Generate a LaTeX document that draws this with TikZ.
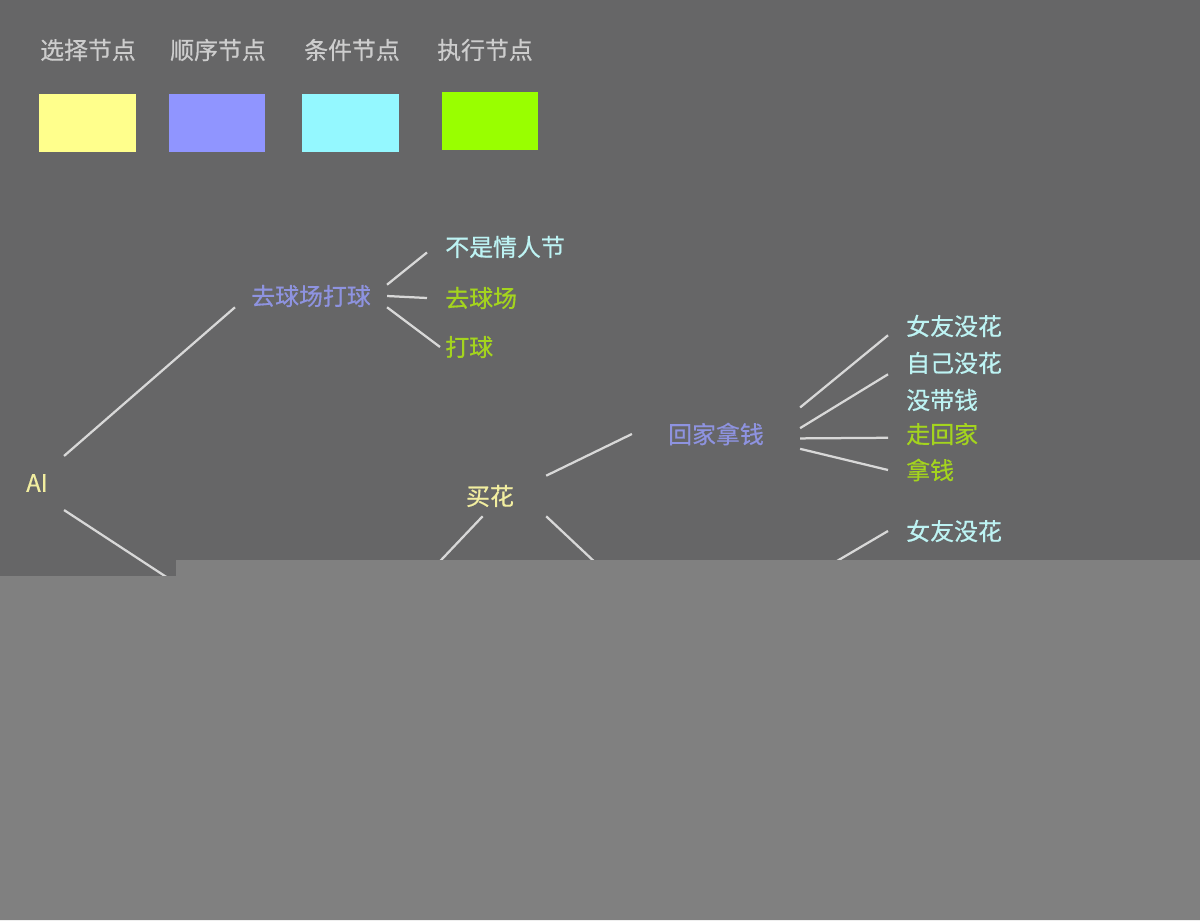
\documentclass[tikz,border=0pt]{standalone}
\usepackage{fontspec}
\newfontfamily\cjk[FakeBold=0.6]{Noto Sans CJK SC}
\usepackage{tikz}

\definecolor{bggray}{HTML}{666667}
\definecolor{maskgray}{HTML}{808080}
\definecolor{legendgray}{HTML}{CDCDCD}
\definecolor{linegray}{HTML}{D8D8D8}
\definecolor{selfill}{HTML}{FFFF8C}
\definecolor{seqfill}{HTML}{9095FF}
\definecolor{condfill}{HTML}{94F8FF}
\definecolor{actfill}{HTML}{99FF00}
\definecolor{seltext}{HTML}{F2EEA0}
\definecolor{seqtext}{HTML}{8E93E0}
\definecolor{condtext}{HTML}{BDF3F3}
\definecolor{acttext}{HTML}{A4D41E}

\begin{document}
\begin{tikzpicture}[x=0.025cm, y=-0.025cm,
        txt/.style={font={\cjk\fontsize{17pt}{20pt}\selectfont}, inner ysep=0pt},
        legend/.style={txt, text=legendgray},
        swatch/.style={minimum width=2.4cm, minimum height=1.45cm, inner sep=0pt},
        sel/.style={txt, text=seltext},
        seq/.style={txt, text=seqtext},
        cond/.style={txt, text=condtext},
        act/.style={txt, text=acttext},
        leaf/.style={anchor=west, inner xsep=0.45cm},
        link/.style={draw=linegray, line width=1.6pt}]

        \useasboundingbox (0,0) rectangle (1200,920);
        \fill[bggray] (0,0) rectangle (1200,920);

        \node[legend] (lsel) at (88,50) {选择节点};
        \node[legend] (lseq) at (218,50) {顺序节点};
        \node[legend] (lcond) at (352,50) {条件节点};
        \node[legend] (lact) at (485,50) {执行节点};

        \node[swatch, fill=selfill] (bsel) at (87.5,123) {};
        \node[swatch, fill=seqfill] (bseq) at (217,123) {};
        \node[swatch, fill=condfill] (bcond) at (350.5,123) {};
        \node[swatch, fill=actfill] (bact) at (490,121) {};


        \node[sel, inner xsep=0.4cm, inner ysep=0.45cm] (ai) at (37,483) {AI};

        \node[seq, inner xsep=0.4cm] (qqdq) at (311,296) {去球场打球};
        \node[cond, leaf] (bsqr) at (427,247) {不是情人节};
        \node[act, leaf] (qqc) at (427,298) {去球场};
        \node[act, leaf, inner xsep=0.125cm] (dq) at (440,347) {打球};

        \node[sel, inner xsep=0.8cm, inner ysep=0.225cm] (mh) at (490,496) {买花};

        \node[seq, inner xsep=0.9cm, inner ysep=0.375cm] (hjnq) at (716,434) {回家拿钱};
        \node[cond, leaf] (nymh) at (888,326) {女友没花};
        \node[cond, leaf] (zjmh) at (888,363) {自己没花};
        \node[cond, leaf] (mdq) at (888,400) {没带钱};
        \node[act, leaf] (zhj) at (888,434) {走回家};
        \node[act, leaf] (nq) at (888,470) {拿钱};

        \node[cond, leaf] (nymhb) at (888,531) {女友没花};

        \coordinate (aidown) at (200,599);
        \coordinate (mhleft) at (425,577);
        \coordinate (mhright) at (615,581);
        \coordinate (nymhdown) at (820,571);


        \draw[link] (ai.north east) -- (qqdq.south west);
        \draw[link] (ai.south east) -- (aidown);

        \draw[link] (qqdq.north east) -- (bsqr.184);
        \draw[link] (qqdq.east) -- (qqc.west);
        \draw[link] (qqdq.south east) -- (dq.west);

        \draw[link] (mh.north east) -- (hjnq.west);
        \draw[link] (mh.250) -- (mhleft);
        \draw[link] (mh.south east) -- (mhright);

        \draw[link] (hjnq.north east) -- (nymh.188);
        \draw[link] (hjnq.4) -- (zjmh.south west);
        \draw[link] (hjnq.357) -- (zhj.184);
        \draw[link] (hjnq.350) -- (nq.west);

        \draw[link] (nymhb.west) -- (nymhdown);


        \fill[maskgray] (176,560) -- (1200,560) -- (1200,920) -- (0,920) -- (0,576) -- (176,576) -- cycle;
    \end{tikzpicture}
\end{document}
